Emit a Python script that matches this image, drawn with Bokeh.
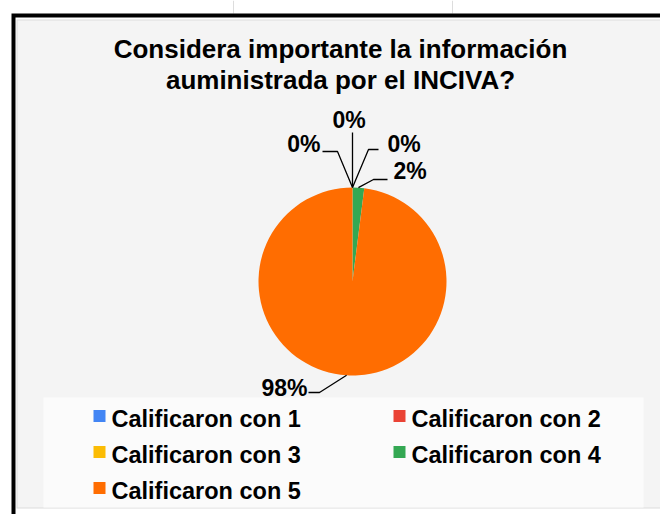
import numpy as np
from bokeh.plotting import figure
from bokeh.models import Range1d
from bokeh.core.properties import value
from bokeh.embed import file_html
from bokeh.resources import INLINE

# ---- data ----
title_lines = ["Considera importante la información", "auministrada por el INCIVA?"]
categories = ["Calificaron con 1", "Calificaron con 2", "Calificaron con 3",
              "Calificaron con 4", "Calificaron con 5"]
percents = [0, 0, 0, 2, 98]
colors = ["#4285f4", "#ea4335", "#fbbc04", "#34a853", "#ff6d01"]

FONT = value("Liberation Sans")
W, H = 660, 514
TXT = 8  # text baseline correction


def Y(py):
    return H - py


def TY(py):
    return H - (py - TXT)


p = figure(width=W, height=H, x_range=Range1d(0, W), y_range=Range1d(0, H),
           min_border=0, toolbar_location=None, output_backend="svg",
           x_axis_location=None, y_axis_location=None)
p.grid.visible = False
p.outline_line_color = None
p.background_fill_color = "white"
p.border_fill_color = "white"

# faint spreadsheet lines above the chart
p.segment(x0=[233, 452], y0=[Y(0)] * 2, x1=[233, 452], y1=[Y(13)] * 2,
          line_color="#dddddd", line_width=1)

# frame
p.quad(left=11, right=660, top=Y(13), bottom=Y(514), fill_color="black", line_color=None)
p.quad(left=15, right=660, top=Y(17), bottom=Y(514), fill_color="white", line_color=None)
p.quad(left=16, right=660, top=Y(19), bottom=Y(508), fill_color="#dcdcdc", line_color=None)
p.quad(left=17, right=660, top=Y(20), bottom=Y(507), fill_color="#f4f4f4", line_color=None)
# legend box
p.quad(left=43, right=643, top=Y(397), bottom=Y(507), fill_color="#fbfbfb", line_color=None)

# title
p.text(x=[340, 340], y=[TY(56), TY(87)], text=title_lines, text_font=FONT,
       text_font_style="bold", text_font_size="26px", text_align="center",
       text_baseline="alphabetic", text_color="black")

# pie
cx, cy, r = 352, Y(281), 94
frac = np.array(percents, dtype=float) / sum(percents)
cum_end = np.cumsum(frac)
cum_start = cum_end - frac
start_ang = np.pi / 2 - 2 * np.pi * cum_end
end_ang = np.pi / 2 - 2 * np.pi * cum_start
nz = frac > 0
p.wedge(x=cx, y=cy, radius=r, start_angle=start_ang[nz], end_angle=end_ang[nz],
        fill_color=np.array(colors)[nz].tolist(), line_color=None)

# leader lines from slice midpoints
mid = np.pi / 2 - 2 * np.pi * (cum_start + frac / 2)
mx = cx + r * np.cos(mid)
my = cy + r * np.sin(mid)
bends = [[(337, 151), (322, 151)],
         [(352, 132)],
         [(368, 149), (378, 149)],
         [(373, 179), (387, 179)],
         [(319, 392), (308, 392)]]
xs, ys = [], []
for i in range(len(percents)):
    xs.append([mx[i]] + [b[0] for b in bends[i]])
    ys.append([my[i]] + [Y(b[1]) for b in bends[i]])
p.multi_line(xs=xs, ys=ys, line_color="black", line_width=1.3)

label_pos = [(320, 151, "right"), (348.5, 127, "center"), (387, 151, "left"),
             (393, 178, "left"), (307, 395, "right")]
for i, v in enumerate(percents):
    lx, ly, al = label_pos[i]
    p.text(x=[lx], y=[TY(ly)], text=[f"{v}%"], text_font=FONT, text_font_style="bold",
           text_font_size="23px", text_align=al, text_baseline="alphabetic",
           text_color="black")

# legend
col_x = [99, 399]
row_base = [426, 462, 498]
lx_sq, ly_sq, ltx, lty = [], [], [], []
for i, c in enumerate(categories):
    row, col = divmod(i, 2)
    lx_sq.append(col_x[col])
    ly_sq.append(Y(row_base[row] - 10.5))
    ltx.append(col_x[col] + 12)
    lty.append(TY(row_base[row]))
p.rect(x=lx_sq, y=ly_sq, width=12, height=12, width_units="screen", height_units="screen",
       fill_color=colors, line_color=None)
p.text(x=ltx, y=lty, text=categories, text_font=FONT, text_font_style="bold",
       text_font_size="23.5px", text_align="left", text_baseline="alphabetic",
       text_color="black")

open("out.html", "w").write(file_html(p, INLINE))
